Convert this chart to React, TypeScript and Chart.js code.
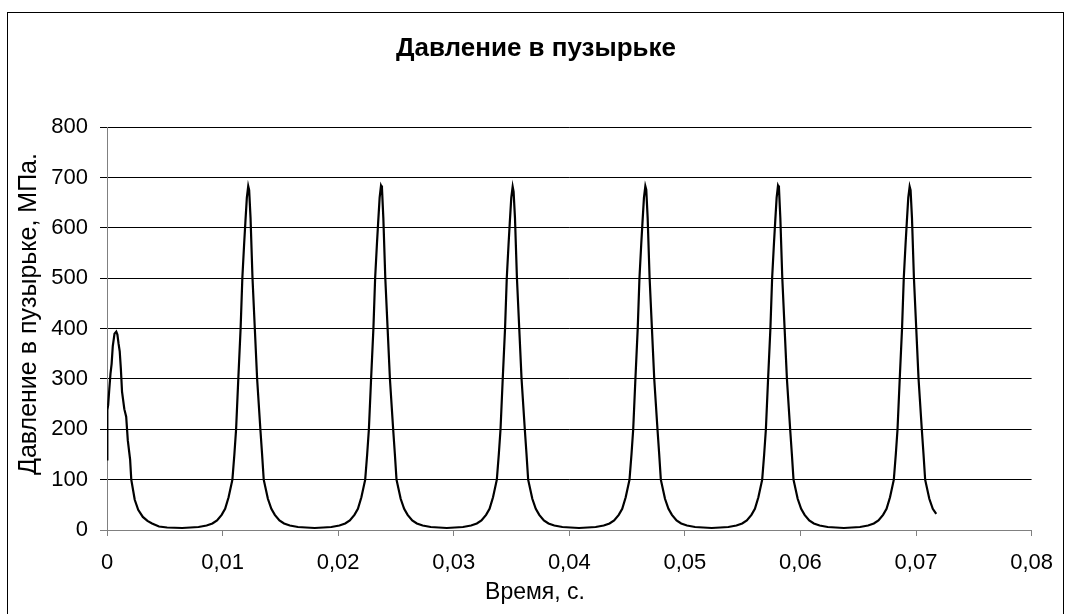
import React, { useEffect, useRef } from "react";
import { Chart, registerables } from "chart.js";

Chart.register(...registerables);

const TITLE = "Давление в пузырьке";
const X_TITLE = "Время, с.";
const Y_TITLE = "Давление в пузырьке, МПа.";
const X_TICK_LABELS = ["0", "0,01", "0,02", "0,03", "0,04", "0,05", "0,06", "0,07", "0,08"];
const Y_TICK_LABELS = ["0", "100", "200", "300", "400", "500", "600", "700", "800"];

// first (partial) pulse
const t0 = [0, 0.00003, 0.0001, 0.0002, 0.0003, 0.0004, 0.0005, 0.00065, 0.0008, 0.0009, 0.001, 0.0011, 0.0012, 0.0013, 0.0015, 0.00166, 0.0018, 0.002, 0.0021, 0.0024, 0.0027, 0.0031, 0.0035, 0.0039, 0.0045, 0.0052, 0.0065];
const p0 = [140, 238, 248, 280, 310, 330, 365, 390, 394, 388, 370, 355, 320, 275, 240, 225, 178, 140, 100, 60, 40, 26, 18, 13, 7, 5, 4];

const t1 = [0.00722, 0.00792, 0.00862, 0.00912, 0.00952, 0.00992, 0.01022, 0.01052, 0.01085, 0.01102, 0.01117, 0.01136, 0.01156, 0.01171, 0.01187, 0.01197, 0.0121, 0.01222, 0.0123, 0.01242, 0.01259, 0.01279, 0.01299, 0.01327, 0.01342, 0.01356, 0.01392, 0.01422, 0.01452, 0.01492, 0.01532, 0.01582, 0.01652, 0.01722, 0.01797];
const p1 = [5, 6, 9, 13, 19, 30, 42, 65, 100, 150, 200, 300, 400, 500, 570, 610, 660, 683, 675, 620, 500, 400, 300, 200, 150, 100, 62, 42, 30, 19, 13, 9, 6, 5, 4];

const t2 = [0.01871, 0.01941, 0.02011, 0.02061, 0.02101, 0.02141, 0.02171, 0.02201, 0.02234, 0.02251, 0.02266, 0.02285, 0.02305, 0.0232, 0.02336, 0.02346, 0.02359, 0.02371, 0.02379, 0.02391, 0.02408, 0.02428, 0.02448, 0.02476, 0.02491, 0.02505, 0.02541, 0.02571, 0.02601, 0.02641, 0.02681, 0.02731, 0.02801, 0.02871, 0.0294];
const p2 = [5, 6, 9, 13, 19, 30, 42, 65, 100, 150, 200, 300, 400, 500, 570, 610, 660, 684, 680, 620, 500, 400, 300, 200, 150, 100, 62, 42, 30, 19, 13, 9, 6, 5, 4];

const t3 = [0.0301, 0.0308, 0.0315, 0.032, 0.0324, 0.0328, 0.0331, 0.0334, 0.03373, 0.0339, 0.03405, 0.03424, 0.03444, 0.03459, 0.03475, 0.03485, 0.03498, 0.0351, 0.03518, 0.0353, 0.03547, 0.03567, 0.03587, 0.03615, 0.0363, 0.03644, 0.0368, 0.0371, 0.0374, 0.0378, 0.0382, 0.0387, 0.0394, 0.0401, 0.04084];
const p3 = [5, 6, 9, 13, 19, 30, 42, 65, 100, 150, 200, 300, 400, 500, 570, 610, 660, 682, 672, 620, 500, 400, 300, 200, 150, 100, 62, 42, 30, 19, 13, 9, 6, 5, 4];

const t4 = [0.04158, 0.04228, 0.04298, 0.04348, 0.04388, 0.04428, 0.04458, 0.04488, 0.04521, 0.04538, 0.04553, 0.04572, 0.04592, 0.04607, 0.04623, 0.04633, 0.04646, 0.04658, 0.04666, 0.04678, 0.04695, 0.04715, 0.04735, 0.04763, 0.04778, 0.04792, 0.04828, 0.04858, 0.04888, 0.04928, 0.04968, 0.05018, 0.05088, 0.05158, 0.05232];
const p4 = [5, 6, 9, 13, 19, 30, 42, 65, 100, 150, 200, 300, 400, 500, 570, 610, 660, 683, 676, 620, 500, 400, 300, 200, 150, 100, 62, 42, 30, 19, 13, 9, 6, 5, 4];

const t5 = [0.05306, 0.05376, 0.05446, 0.05496, 0.05536, 0.05576, 0.05606, 0.05636, 0.05669, 0.05686, 0.05701, 0.0572, 0.0574, 0.05755, 0.05771, 0.05781, 0.05794, 0.05806, 0.05814, 0.05826, 0.05843, 0.05863, 0.05883, 0.05911, 0.05926, 0.0594, 0.05976, 0.06006, 0.06036, 0.06076, 0.06116, 0.06166, 0.06236, 0.06306, 0.06376];
const p5 = [5, 6, 9, 13, 19, 30, 42, 65, 100, 150, 200, 300, 400, 500, 570, 610, 660, 684, 680, 620, 500, 400, 300, 200, 150, 100, 62, 42, 30, 19, 13, 9, 6, 5, 4];

const t6 = [0.06445, 0.06515, 0.06585, 0.06635, 0.06675, 0.06715, 0.06745, 0.06775, 0.06808, 0.06825, 0.0684, 0.06859, 0.06879, 0.06894, 0.0691, 0.0692, 0.06933, 0.06945, 0.06953, 0.06965, 0.06982, 0.07002, 0.07022, 0.0705, 0.07065, 0.07079, 0.07115, 0.07145, 0.07175];
const p6 = [5, 6, 9, 13, 19, 30, 42, 65, 100, 150, 200, 300, 400, 500, 570, 610, 660, 682, 675, 620, 500, 400, 300, 200, 150, 100, 62, 42, 32];

const SEGMENTS: [number[], number[]][] = [
  [t0, p0], [t1, p1], [t2, p2], [t3, p3], [t4, p4], [t5, p5], [t6, p6],
];

const FONT = "'Liberation Sans', Arial, sans-serif";
const FS = 22;
const X_TITLE_FS = 23;
const Y_TITLE_FS = 25;
const TITLE_FS = 26;

// Axis titles are centred on the whole chart box (as in the original), not on the plot area.
const axisTitlePlugin = {
  id: "axisTitlesBox",
  afterDraw(chart: any) {
    const ctx = chart.ctx;
    ctx.save();
    ctx.fillStyle = "#000";
    ctx.textAlign = "center";
    ctx.textBaseline = "middle";
    ctx.font = `${X_TITLE_FS}px ${FONT}`;
    ctx.fillText(X_TITLE, 535, 593);
    ctx.font = `${Y_TITLE_FS}px ${FONT}`;
    ctx.translate(29, 314);
    ctx.rotate(-Math.PI / 2);
    ctx.fillText(Y_TITLE, 0, 0);
    ctx.restore();
  },
};

export default function App() {
  const ref = useRef<HTMLCanvasElement | null>(null);

  useEffect(() => {
    if (!ref.current) return;
    const points: { x: number; y: number }[] = [];
    SEGMENTS.forEach(([ts, ps]) => ts.forEach((t, i) => points.push({ x: t, y: ps[i] })));

    const chart = new Chart(ref.current, {
      type: "scatter",
      data: {
        datasets: [
          {
            data: points,
            showLine: true,
            borderColor: "#000",
            borderWidth: 2.2,
            pointRadius: 0,
            tension: 0,
            fill: false,
          },
        ],
      },
      options: {
        animation: false,
        responsive: false,
        devicePixelRatio: 1,
        layout: { padding: { left: 5, top: 12, right: 0, bottom: 0 } },
        plugins: {
          legend: { display: false },
          tooltip: { enabled: false },
          title: {
            display: true,
            text: TITLE,
            color: "#000",
            font: { family: FONT, size: TITLE_FS, weight: "bold" },
            padding: { top: 21, bottom: 63 },
          },
        },
        scales: {
          x: {
            type: "linear",
            min: 0,
            max: 0.08,
            afterFit: (s: any) => { s.height = 84; },
            ticks: {
              stepSize: 0.01,
              color: "#000",
              padding: 14,
              maxRotation: 0,
              font: { family: FONT, size: FS },
              callback: (_v: any, i: number) => X_TICK_LABELS[i],
            },
            grid: { drawOnChartArea: false, color: "#808080", tickLength: 6, lineWidth: 1 },
            border: { color: "#808080", width: 1 },
            title: { display: false },
          },
          y: {
            type: "linear",
            min: 0,
            max: 800,
            afterFit: (s: any) => { s.width = 102; },
            ticks: {
              stepSize: 100,
              color: "#000",
              padding: 12,
              font: { family: FONT, size: FS },
              callback: (_v: any, i: number) => Y_TICK_LABELS[i],
            },
            grid: {
              color: (ctx: any) => (ctx.tick && ctx.tick.value === 0 ? "#808080" : "#000"),
              tickLength: 7,
              lineWidth: 1,
            },
            border: { color: "#808080", width: 1 },
            title: { display: false },
          },
          yRight: {
            type: "linear",
            position: "right",
            min: 0,
            max: 800,
            afterFit: (s: any) => { s.width = 26; },
            ticks: { display: false },
            grid: { display: false, drawOnChartArea: false },
            border: { display: false },
          },
        },
      },
      plugins: [axisTitlePlugin],
    });
    return () => chart.destroy();
  }, []);

  return (
    <div style={{ position: "fixed", left: 0, top: 0, width: 1067, height: 614, background: "#fff", overflow: "hidden" }}>
      <canvas ref={ref} width={1067} height={614} style={{ position: "absolute", left: 0, top: 0, width: 1067, height: 614 }} />
      <div
        style={{
          position: "absolute",
          left: 7,
          top: 12,
          width: 1057,
          height: 620,
          border: "1px solid #000",
          boxSizing: "border-box",
          pointerEvents: "none",
        }}
      />
    </div>
  );
}
